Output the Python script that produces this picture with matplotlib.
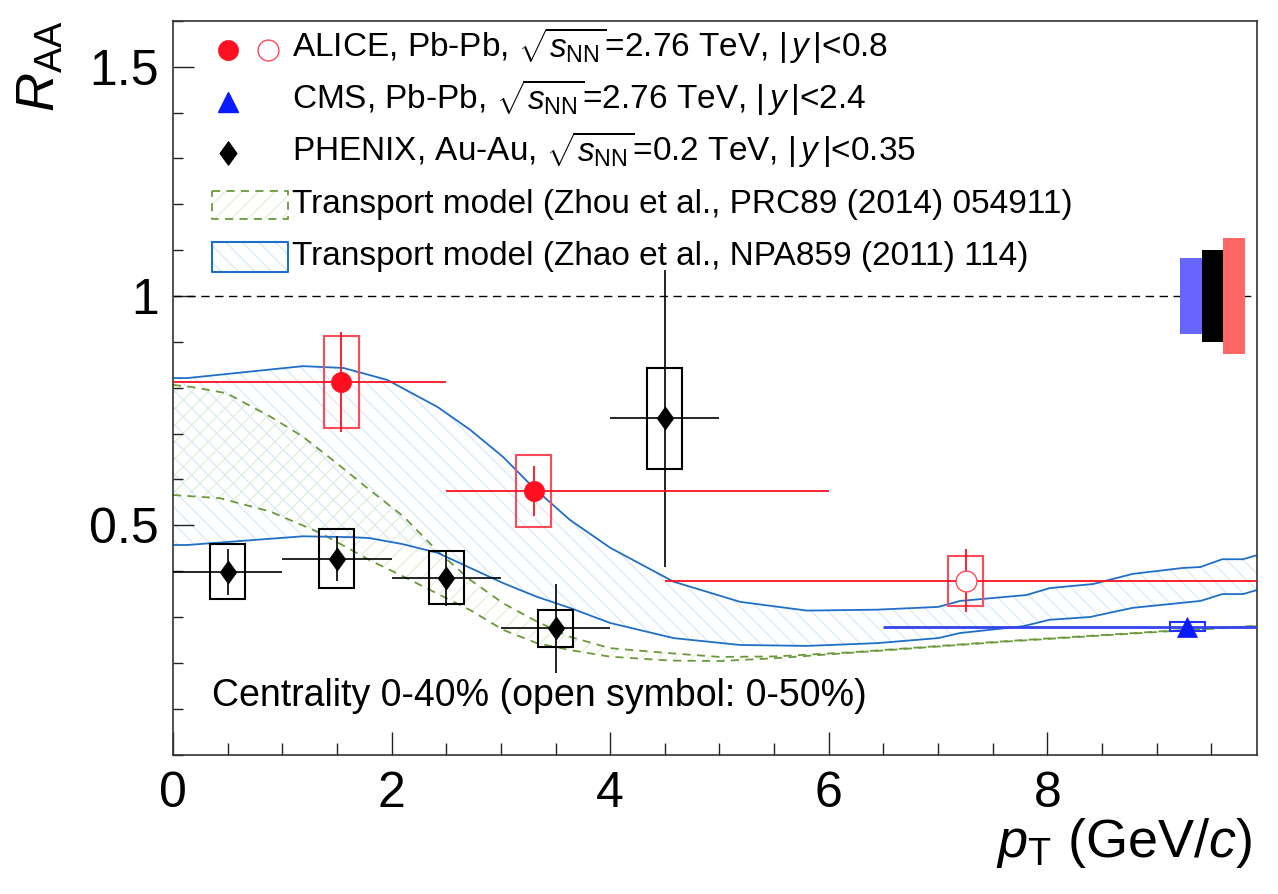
import numpy as np
import matplotlib
matplotlib.use('Agg')
import matplotlib.pyplot as plt
from matplotlib.path import Path
from matplotlib.ticker import MultipleLocator, FixedLocator, FuncFormatter

plt.rcParams['font.family'] = ['Liberation Sans', 'DejaVu Sans']
plt.rcParams['mathtext.fontset'] = 'custom'
plt.rcParams['mathtext.rm'] = 'Liberation Sans'
plt.rcParams['mathtext.it'] = 'Liberation Sans:italic'
plt.rcParams['mathtext.bf'] = 'Liberation Sans:bold'
plt.rcParams['hatch.linewidth'] = 0.8

# ALICE, Pb-Pb 2.76 TeV, 0-40% (filled)
alice_x = [1.54, 3.30]
alice_y = [0.813, 0.575]
alice_xlo = [0.0, 2.5]
alice_xhi = [2.5, 6.0]
alice_stat = [0.109, 0.054]
alice_sys = [0.100, 0.078]

# ALICE, 0-50% (open symbol)
alice_open_x = [7.255]
alice_open_y = [0.379]
alice_open_xlo = [4.5]
alice_open_xhi = [10.0]
alice_open_stat = [0.069]
alice_open_sys = [0.054]

# CMS, Pb-Pb 2.76 TeV
cms_x = [9.28]
cms_y = [0.279]
cms_xlo = [6.5]
cms_xhi = [10.0]
cms_stat = [0.005]
cms_sys = [0.010]

# PHENIX, Au-Au 0.2 TeV
phenix_x = [0.5, 1.5, 2.5, 3.5, 4.5]
phenix_y = [0.399, 0.427, 0.386, 0.275, 0.733]
phenix_xlo = [0.0, 1.0, 2.0, 3.0, 4.0]
phenix_xhi = [1.0, 2.0, 3.0, 4.0, 5.0]
phenix_stat = [0.050, 0.049, 0.061, 0.098, 0.323]
phenix_sys = [0.060, 0.064, 0.058, 0.041, 0.110]

# global uncertainties around unity: CMS, PHENIX, ALICE
glob_x = [9.31, 9.51, 9.71]
glob_unc = [0.082, 0.101, 0.127]
glob_colors = ['#6666ff', '#000000', '#ff6666']

# Transport model, Zhao et al. (band edges)
zhao_up_x = [0.0, 0.13, 1.19, 1.56, 1.96, 2.42, 2.72, 3.02, 3.29, 3.63, 4.0, 4.58,
             5.19, 5.80, 6.44, 7.0, 7.2, 7.81, 8.02, 8.42, 8.78, 9.24, 9.40, 9.60, 9.79, 9.92]
zhao_up_y = [0.821, 0.821, 0.847, 0.843, 0.817, 0.758, 0.708, 0.649, 0.584, 0.512, 0.451, 0.377,
             0.333, 0.314, 0.316, 0.322, 0.335, 0.348, 0.363, 0.372, 0.394, 0.407, 0.409, 0.426, 0.426, 0.435]
zhao_lo_x = [0.0, 0.13, 1.19, 1.65, 1.80, 2.10, 2.42, 2.72, 3.02, 3.33, 3.63, 4.0, 4.58,
             5.19, 5.80, 6.44, 7.0, 7.2, 7.78, 8.02, 8.39, 8.78, 9.40, 9.60, 9.79, 9.92]
zhao_lo_y = [0.457, 0.457, 0.476, 0.474, 0.472, 0.459, 0.440, 0.407, 0.374, 0.344, 0.320, 0.287, 0.254,
             0.239, 0.237, 0.243, 0.254, 0.265, 0.280, 0.294, 0.300, 0.320, 0.335, 0.350, 0.350, 0.359]

# Transport model, Zhou et al. (band edges)
zhou_up_x = [0.0, 0.16, 0.49, 0.89, 1.19, 1.50, 1.80, 2.11, 2.41, 2.72, 3.02, 3.33, 3.63, 4.0, 4.55,
             5.0, 5.5, 6.2, 7.66, 9.12, 9.92]
zhou_up_y = [0.806, 0.802, 0.788, 0.737, 0.693, 0.635, 0.577, 0.519, 0.446, 0.381, 0.330, 0.290, 0.257,
             0.232, 0.221, 0.213, 0.214, 0.223, 0.248, 0.270, 0.281]
zhou_lo_x = [0.0, 0.43, 0.89, 1.35, 1.80, 2.11, 2.41, 2.72, 3.02, 3.33, 3.63, 4.0, 4.55,
             5.0, 5.5, 6.2, 7.66, 9.12, 9.92]
zhou_lo_y = [0.566, 0.559, 0.530, 0.483, 0.424, 0.388, 0.352, 0.315, 0.272, 0.243, 0.228, 0.2135, 0.205,
             0.204, 0.210, 0.222, 0.247, 0.269, 0.280]

SYS_HW = 0.16

fig = plt.figure(figsize=(12.78, 8.94), dpi=100)
ax = fig.add_axes([173 / 1278, 1 - 754.6 / 894, 1083.7 / 1278, 733.8 / 894])
ax.set_xlim(0, 9.915)
ax.set_ylim(0, 1.6)

zhao_col = '#1f6fc8'
zhou_col = '#6a9a3a'
zhao_hatch = '#d3e6f7'
zhou_hatch = '#e0eed3'

# model bands
ax.fill(np.concatenate([zhou_up_x, zhou_lo_x[::-1]]), np.concatenate([zhou_up_y, zhou_lo_y[::-1]]),
        facecolor='none', edgecolor=zhou_hatch, hatch='//', linewidth=0, zorder=1)
ax.fill(np.concatenate([zhao_up_x, zhao_lo_x[::-1]]), np.concatenate([zhao_up_y, zhao_lo_y[::-1]]),
        facecolor='none', edgecolor=zhao_hatch, hatch='\\\\', linewidth=0, zorder=1)
ax.plot(zhou_up_x, zhou_up_y, color=zhou_col, lw=1.3, ls=(0, (4.5, 3.5)), zorder=2)
ax.plot(zhou_lo_x, zhou_lo_y, color=zhou_col, lw=1.3, ls=(0, (4.5, 3.5)), zorder=2)
ax.plot(zhao_up_x, zhao_up_y, color=zhao_col, lw=1.3, zorder=2)
ax.plot(zhao_lo_x, zhao_lo_y, color=zhao_col, lw=1.3, zorder=2)

ax.axhline(1.0, color='black', lw=1.0, ls=(0, (6, 4)), zorder=2)

# global uncertainty boxes
ax.bar(glob_x, [2 * u for u in glob_unc], bottom=[1 - u for u in glob_unc], width=0.2,
       color=glob_colors, linewidth=0, zorder=3)


def draw_points(x, y, xlo, xhi, stat, sys, col, syscol, marker, ms, mfc, mec, mew, elw):
    x = np.array(x)
    y = np.array(y)
    xerr = [x - np.array(xlo), np.array(xhi) - x]
    ax.bar(x, 2 * np.array(sys), bottom=y - np.array(sys), width=2 * SYS_HW,
           fill=False, edgecolor=syscol, linewidth=1.5, zorder=3)
    ax.errorbar(x, y, xerr=xerr, yerr=stat, fmt='none', ecolor=col, elinewidth=elw,
                capsize=0, zorder=4)
    ax.plot(x, y, ls='none', marker=marker, ms=ms, mfc=mfc, mec=mec, mew=mew, zorder=5)


diamond = Path([(0, 1), (0.72, 0), (0, -1), (-0.72, 0), (0, 1)],
               [Path.MOVETO, Path.LINETO, Path.LINETO, Path.LINETO, Path.CLOSEPOLY])

draw_points(phenix_x, phenix_y, phenix_xlo, phenix_xhi, phenix_stat, phenix_sys,
            'black', 'black', diamond, 16.6, 'black', 'black', 0.5, 1.2)
draw_points(alice_x, alice_y, alice_xlo, alice_xhi, alice_stat, alice_sys,
            '#ff1020', '#ff4a5a', 'o', 14.5, '#ff1020', '#ff1020', 0.5, 1.3)
draw_points(alice_open_x, alice_open_y, alice_open_xlo, alice_open_xhi, alice_open_stat,
            alice_open_sys, '#ff1020', '#ff4a5a', 'o', 15.0, 'white', '#ff4a5a', 1.0, 1.3)
draw_points(cms_x, cms_y, cms_xlo, cms_xhi, cms_stat, cms_sys,
            '#3344ee', '#2233ff', '^', 13.9, '#0a1aff', '#0a1aff', 0.5, 2.0)

# axes styling
for s in ax.spines.values():
    s.set_color('#333333')
    s.set_linewidth(1.2)
ax.xaxis.set_major_locator(FixedLocator([0, 2, 4, 6, 8]))
ax.xaxis.set_minor_locator(MultipleLocator(0.5))
ax.yaxis.set_major_locator(FixedLocator([0.5, 1.0, 1.5]))
ax.yaxis.set_minor_locator(MultipleLocator(0.1))
ax.yaxis.set_major_formatter(FuncFormatter(lambda v, p: '%g' % v))
ax.tick_params(axis='both', which='both', direction='in', top=False, right=False, color='#222222')
ax.tick_params(axis='x', which='major', length=16.5, width=1.0, labelsize=36, pad=12)
ax.tick_params(axis='x', which='minor', length=8.6, width=1.0)
ax.tick_params(axis='y', which='major', length=15, width=1.0, labelsize=36, pad=10)
ax.tick_params(axis='y', which='minor', length=7.2, width=1.0)

# axis titles
fig.text(16 / 1278, 1 - 20 / 894, r'$R_{\rm AA}$', rotation=90, ha='left', va='top', fontsize=39)
fig.text(1252 / 1278, 1 - 857 / 894, r'$p_{\rm T}$ (GeV/$c$)', ha='right', va='baseline', fontsize=39)


# legend (drawn by hand, in pixel positions of the figure)
def fx(px):
    return px / 1278


def fy(py):
    return 1 - py / 894


lfs = 24
fig.text(fx(292), fy(57), r'ALICE, Pb-Pb, $\sqrt{s_{\rm NN}}$=2.76 TeV, $|\,y\,|$<0.8', fontsize=lfs, va='baseline')
fig.text(fx(292), fy(109), r'CMS, Pb-Pb, $\sqrt{s_{\rm NN}}$=2.76 TeV, $|\,y\,|$<2.4', fontsize=lfs, va='baseline')
fig.text(fx(292), fy(161), r'PHENIX, Au-Au, $\sqrt{s_{\rm NN}}$=0.2 TeV, $|\,y\,|$<0.35', fontsize=lfs, va='baseline')
fig.text(fx(292), fy(213), 'Transport model (Zhou et al., PRC89 (2014) 054911)', fontsize=lfs, va='baseline')
fig.text(fx(292), fy(265), 'Transport model (Zhao et al., NPA859 (2011) 114)', fontsize=lfs, va='baseline')

lax = fig.add_axes([0, 0, 1, 1], facecolor='none')
lax.set_xlim(0, 1278)
lax.set_ylim(894, 0)
lax.axis('off')
lax.plot([228], [50], 'o', ms=14.5, color='#ff1020', mew=0.5)
lax.plot([268], [50], 'o', ms=15.0, mfc='white', mec='#ff4a5a', mew=1.0)
lax.plot([228], [102], '^', ms=13.9, color='#0a1aff')
lax.plot([228], [153], marker=diamond, ms=16.6, color='black', ls='none')
lax.fill([212, 288, 288, 212], [191, 191, 219, 219], facecolor='white', edgecolor=zhou_hatch,
         hatch='//', lw=0)
lax.plot([212, 288, 288, 212, 212], [191, 191, 219, 219, 191], color=zhou_col, lw=1.3, ls=(0, (4.5, 3.5)))
lax.fill([212, 288, 288, 212], [242, 242, 272, 272], facecolor='white', edgecolor=zhao_hatch,
         hatch='\\\\', lw=0)
lax.plot([212, 288, 288, 212, 212], [242, 242, 272, 272, 242], color=zhao_col, lw=1.5)

fig.text(fx(212), fy(706), 'Centrality 0-40% (open symbol: 0-50%)', fontsize=27, va='baseline')

fig.savefig('out.png', dpi=100)
